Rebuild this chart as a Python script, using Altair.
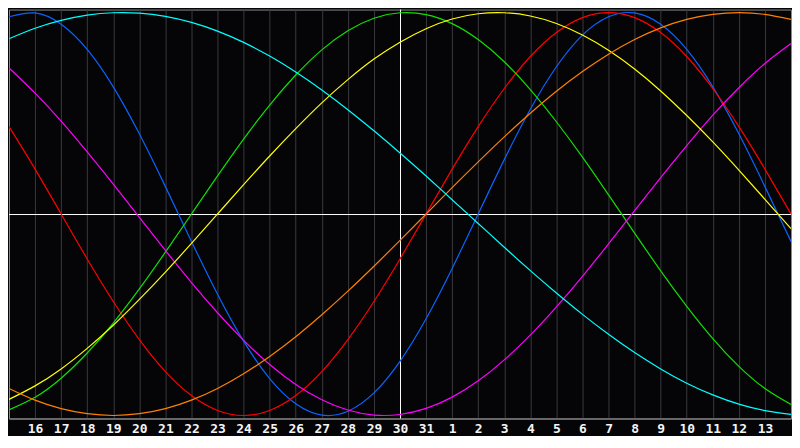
import altair as alt
import pandas as pd

# day index 0..30 (day 15 of the month .. day 14 of the next month)
day_index = list(range(31))
day_labels = ["15", "16", "17", "18", "19", "20", "21", "22", "23", "24", "25", "26",
              "27", "28", "29", "30", "31", "1", "2", "3", "4", "5", "6", "7", "8",
              "9", "10", "11", "12", "13", "14"]
today_index = 15

blue = [0.979, 0.998, 0.942, 0.817, 0.631, 0.398, 0.136, -0.136, -0.398, -0.631,
        -0.817, -0.942, -0.998, -0.979, -0.888, -0.731, -0.520, -0.270, 0.0, 0.270,
        0.520, 0.731, 0.888, 0.979, 0.998, 0.942, 0.817, 0.631, 0.398, 0.136, -0.136]
red = [0.434, 0.223, 0.0, -0.223, -0.434, -0.623, -0.782, -0.901, -0.975, -1.0,
       -0.975, -0.901, -0.782, -0.623, -0.434, -0.223, 0.0, 0.223, 0.434, 0.623,
       0.782, 0.901, 0.975, 1.0, 0.975, 0.901, 0.782, 0.623, 0.434, 0.223, 0.0]
green = [-0.972, -0.910, -0.815, -0.690, -0.541, -0.372, -0.189, 0.0, 0.189, 0.372,
         0.541, 0.690, 0.815, 0.910, 0.972, 0.999, 0.990, 0.945, 0.866, 0.756,
         0.618, 0.458, 0.282, 0.095, -0.095, -0.282, -0.458, -0.618, -0.756, -0.866, -0.945]
magenta = [0.725, 0.600, 0.461, 0.308, 0.148, -0.017, -0.181, -0.340, -0.490, -0.627,
           -0.747, -0.846, -0.922, -0.973, -0.998, -0.995, -0.965, -0.909, -0.828, -0.724,
           -0.601, -0.461, -0.309, -0.148, 0.017, 0.181, 0.340, 0.491, 0.627, 0.747, 0.846]
yellow = [-0.920, -0.853, -0.769, -0.667, -0.552, -0.424, -0.288, -0.146, 0.0, 0.146,
          0.288, 0.424, 0.552, 0.667, 0.769, 0.853, 0.920, 0.968, 0.994, 0.999,
          0.983, 0.946, 0.889, 0.813, 0.720, 0.611, 0.489, 0.358, 0.218, 0.073, -0.073]
orange = [-0.866, -0.924, -0.966, -0.991, -1.0, -0.991, -0.966, -0.924, -0.866, -0.793,
          -0.707, -0.609, -0.5, -0.383, -0.259, -0.131, 0.0, 0.131, 0.259, 0.383,
          0.5, 0.609, 0.707, 0.793, 0.866, 0.924, 0.966, 0.991, 1.0, 0.991, 0.966]
cyan = [0.870, 0.922, 0.961, 0.987, 0.999, 0.997, 0.981, 0.951, 0.908, 0.852,
        0.784, 0.705, 0.616, 0.518, 0.413, 0.303, 0.189, 0.071, -0.047, -0.165,
        -0.281, -0.392, -0.498, -0.597, -0.688, -0.769, -0.840, -0.898, -0.944, -0.976, -0.995]

series_names = ["blue", "red", "green", "magenta", "yellow", "orange", "cyan"]
series_colors = ["#0a64ff", "#ff0000", "#10e000", "#ff00ff", "#ffff00", "#ff8000", "#00ffff"]
series_values = [blue, red, green, magenta, yellow, orange, cyan]

rows = []
for name, vals in zip(series_names, series_values):
    for k, v in zip(day_index, vals):
        rows.append({"k": k, "v": v, "s": name})
df = pd.DataFrame(rows)

label_array = "[" + ",".join("'%s'" % s for s in day_labels) + "]"

x_scale = alt.Scale(domain=[0, 30], nice=False, zero=False)
y_scale = alt.Scale(domain=[-1.015, 1.015], nice=False, zero=False)

x_axis = alt.Axis(values=list(range(1, 30)), labelExpr=label_array + "[datum.value]",
                  grid=True, gridColor="#3a3a3e", gridWidth=1, ticks=False,
                  domain=True, domainColor="#8a8a8a", labelColor="#f4f4f4",
                  labelFont="DejaVu Sans Mono", labelFontWeight="bold", labelFontSize=13,
                  labelPadding=4, title=None, labelFlush=False, labelOverlap=False)

base_lines = alt.Chart(df).mark_line(strokeWidth=1.2, interpolate="natural", clip=True).encode(
    x=alt.X("k:Q", scale=x_scale, axis=x_axis),
    y=alt.Y("v:Q", scale=y_scale, axis=None),
    color=alt.Color("s:N", scale=alt.Scale(domain=series_names, range=series_colors), legend=None),
    detail="s:N",
)

hline = alt.Chart(pd.DataFrame({"y": [0.0]})).mark_rule(
    color="#ffffff", strokeWidth=1, yOffset=0.5
).encode(
    y=alt.Y("y:Q", scale=y_scale, axis=None)
)
vline = alt.Chart(pd.DataFrame({"x": [today_index]})).mark_rule(
    color="#ffffff", strokeWidth=1, xOffset=0.5
).encode(
    x=alt.X("x:Q", scale=x_scale, axis=x_axis)
)

chart = alt.layer(hline, vline, base_lines).properties(
    width=784, height=410, padding=0, background="#050508"
).configure_view(stroke="#8a8a8a", strokeWidth=1)

chart.save("out.html", embed_options={"renderer": "svg", "actions": False})
